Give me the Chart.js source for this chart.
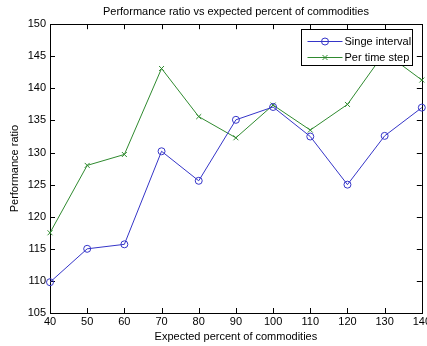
<!DOCTYPE html>
<html>
<head>
<meta charset="utf-8">
<script src="https://cdn.jsdelivr.net/npm/chart.js@4/dist/chart.umd.min.js"></script>
<style>
  body { margin: 0; background: #fff; }
  #frame { width: 427px; height: 346px; overflow: hidden; position: relative; }
  #wrap { width: 433px; height: 346px; }
</style>
</head>
<body>
<div id="frame"><div id="wrap"><canvas id="perf"></canvas></div></div>
<script>
const xValues = [40, 50, 60, 70, 80, 90, 100, 110, 120, 130, 140];
const singeInterval = [109.8, 115.0, 115.7, 130.2, 125.6, 135.1, 137.1, 132.5, 125.0, 132.6, 137.0];
const perTimeStep = [117.5, 128.0, 129.7, 143.1, 135.6, 132.3, 137.4, 133.5, 137.5, 145.6, 141.3];
const seriesNames = ['Singe interval', 'Per time step'];

const blue = '#3535c8';
const green = '#2f8a2f';
const font = "'Liberation Sans', Arial, sans-serif";

function toPoints(ys) {
    return xValues.map((x, i) => ({x: x, y: ys[i]}));
}

// box round the axes, ticks pointing inward on all four sides
const axesBox = {
    id: 'axesBox',
    beforeDatasetsDraw(chart) {
        const ctx = chart.ctx;
        const a = chart.chartArea;
        const xs = chart.scales.x, ys = chart.scales.y;
        const len = 5;
        ctx.save();
        ctx.strokeStyle = '#000';
        ctx.lineWidth = 1;
        ctx.beginPath();
        xs.ticks.forEach(t => {
            const px = Math.round(xs.getPixelForValue(t.value)) + 0.5;
            ctx.moveTo(px, a.bottom); ctx.lineTo(px, a.bottom - len);
            ctx.moveTo(px, a.top); ctx.lineTo(px, a.top + len);
        });
        ys.ticks.forEach(t => {
            const py = Math.round(ys.getPixelForValue(t.value)) + 0.5;
            ctx.moveTo(a.left, py); ctx.lineTo(a.left + len, py);
            ctx.moveTo(a.right, py); ctx.lineTo(a.right - len, py);
        });
        ctx.stroke();
        ctx.strokeRect(Math.round(a.left) + 0.5, Math.round(a.top) + 0.5,
            Math.round(a.right - a.left), Math.round(a.bottom - a.top));
        ctx.restore();
    }
};

function drawMarker(ctx, style, x, y) {
    ctx.beginPath();
    if (style === 'circle') {
        ctx.arc(x, y, 3.5, 0, Math.PI * 2);
    } else {
        const o = 2.5;
        ctx.moveTo(x - o, y - o); ctx.lineTo(x + o, y + o);
        ctx.moveTo(x - o, y + o); ctx.lineTo(x + o, y - o);
    }
    ctx.stroke();
}

// matlab style legend inside the top right corner
const boxLegend = {
    id: 'boxLegend',
    afterDatasetsDraw(chart) {
        const ctx = chart.ctx;
        const a = chart.chartArea;
        const w = 111, h = 36;
        const left = Math.round(a.right - 10 - w) + 0.5;
        const top = Math.round(a.top + 5) + 0.5;
        ctx.save();
        ctx.fillStyle = '#fff';
        ctx.fillRect(left, top, w, h);
        ctx.strokeStyle = '#000';
        ctx.lineWidth = 1;
        ctx.strokeRect(left, top, w, h);
        ctx.font = '11px ' + font;
        ctx.textBaseline = 'middle';
        chart.data.datasets.forEach((ds, i) => {
            const y = Math.round(top + 11 + i * 16) + 0.5;
            ctx.strokeStyle = ds.borderColor;
            ctx.beginPath();
            ctx.moveTo(left + 6, y); ctx.lineTo(left + 41, y);
            ctx.stroke();
            drawMarker(ctx, ds.pointStyle, left + 23.5, y);
            ctx.fillStyle = '#000';
            ctx.fillText(ds.label, left + 43, y);
        });
        ctx.restore();
    }
};

new Chart('perf', {
    type: 'line',
    data: {
        datasets: [{
            label: seriesNames[0],
            data: toPoints(singeInterval),
            borderColor: blue,
            borderWidth: 1,
            pointStyle: 'circle',
            pointRadius: 3.5,
            pointBorderColor: blue,
            pointBackgroundColor: 'rgba(0,0,0,0)',
            pointBorderWidth: 1,
            tension: 0,
            clip: 8
        }, {
            label: seriesNames[1],
            data: toPoints(perTimeStep),
            borderColor: green,
            borderWidth: 1,
            pointStyle: 'crossRot',
            pointRadius: 3.5,
            pointBorderColor: green,
            pointBorderWidth: 1,
            tension: 0,
            clip: 8
        }]
    },
    options: {
        responsive: true,
        maintainAspectRatio: false,
        animation: false,
        events: [],
        layout: { padding: 0 },
        plugins: {
            legend: { display: false },
            tooltip: { enabled: false },
            title: {
                display: true,
                text: 'Performance ratio vs expected percent of commodities',
                color: '#000',
                fullSize: false,
                font: { family: font, size: 11, weight: 'normal' },
                padding: { top: 5, bottom: 6 }
            }
        },
        scales: {
            x: {
                type: 'linear',
                min: 40,
                max: 140,
                grid: { display: false, drawTicks: false },
                border: { display: false },
                ticks: { stepSize: 10, color: '#000', padding: 2, maxRotation: 0, font: { family: font, size: 11 } },
                title: {
                    display: true,
                    text: 'Expected percent of commodities',
                    color: '#000',
                    font: { family: font, size: 11 },
                    padding: { top: 0, bottom: 2 }
                },
                afterFit(s) { s.height = 33; }
            },
            y: {
                min: 105,
                max: 150,
                grid: { display: false, drawTicks: false },
                border: { display: false },
                ticks: { stepSize: 5, color: '#000', padding: 4, font: { family: font, size: 11 } },
                title: {
                    display: true,
                    text: 'Performance ratio',
                    color: '#000',
                    font: { family: font, size: 11 },
                    padding: { top: 8, bottom: 0 }
                },
                afterFit(s) { s.width = 50; }
            }
        }
    },
    plugins: [axesBox, boxLegend]
});
</script>
</body>
</html>
